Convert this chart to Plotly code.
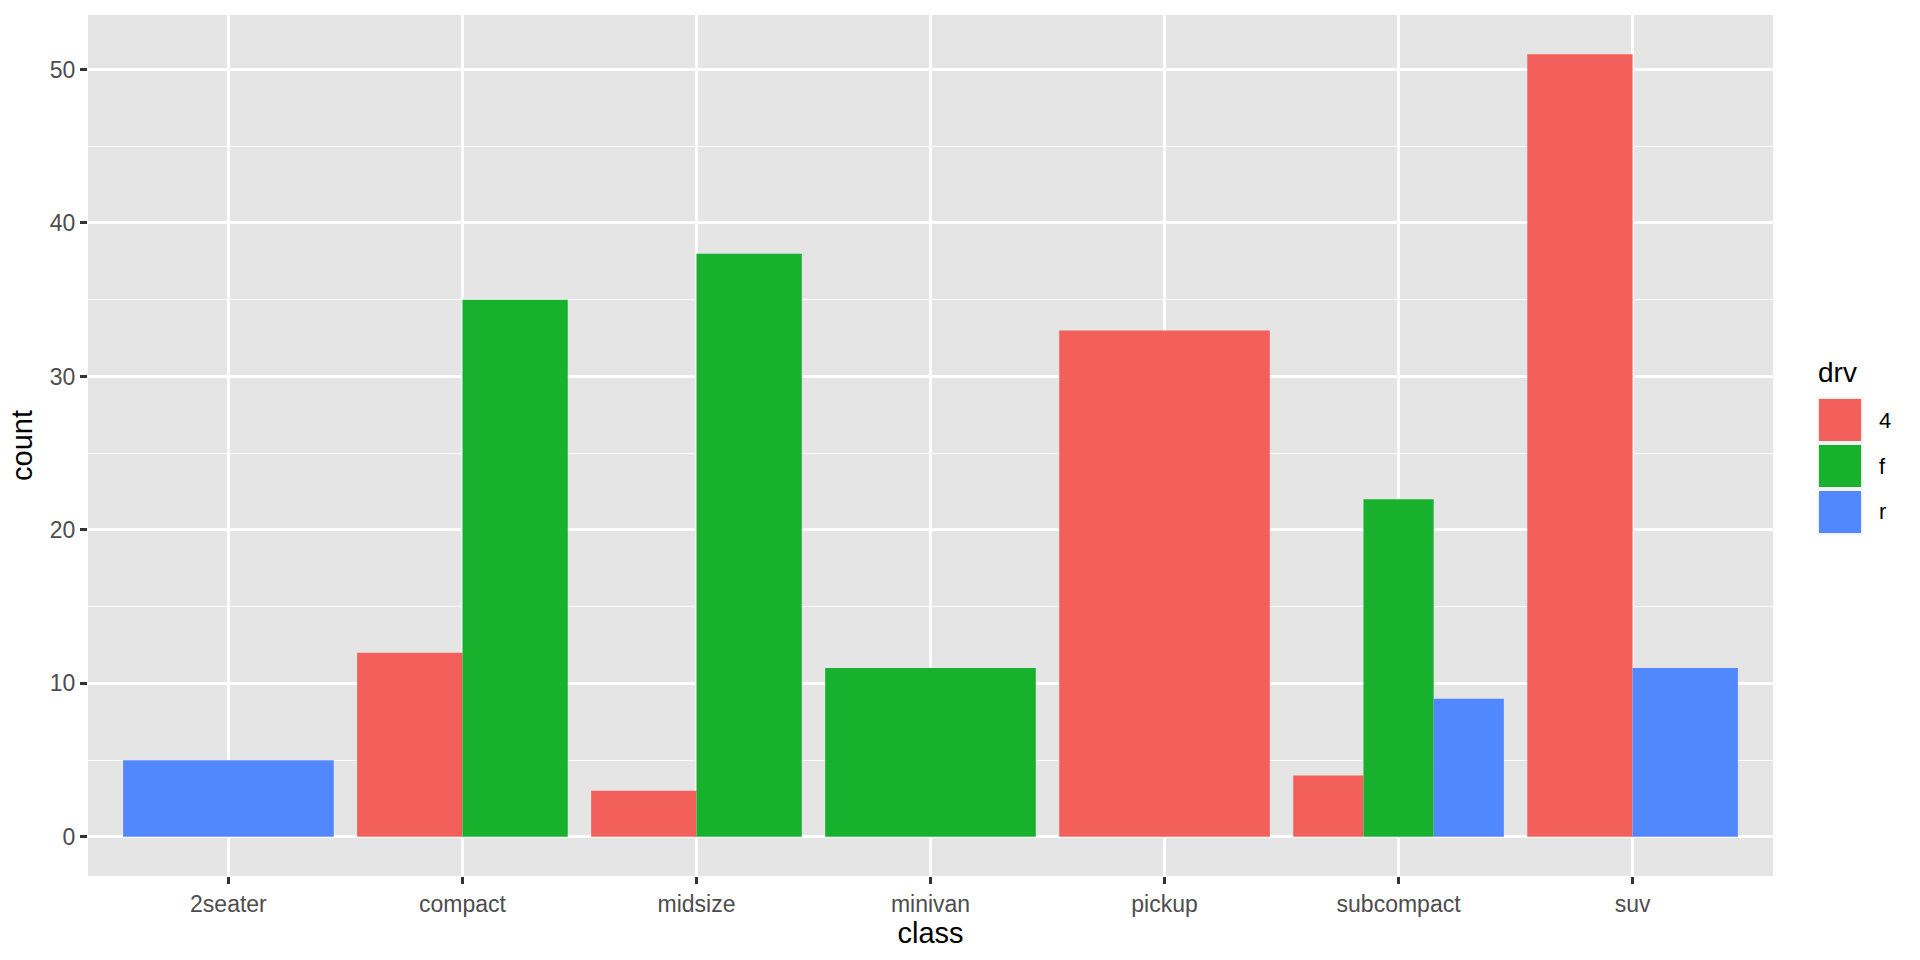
import plotly.graph_objects as go

classes = ["2seater", "compact", "midsize", "minivan", "pickup", "subcompact", "suv"]
drv_levels = ["4", "f", "r"]
counts_4 = [0, 12, 3, 0, 33, 4, 51]
counts_f = [0, 35, 38, 11, 0, 22, 0]
counts_r = [5, 0, 0, 0, 0, 9, 11]
colors = {"4": "#F3605B", "f": "#18B12E", "r": "#5188FF"}

series = {"4": counts_4, "f": counts_f, "r": counts_r}

W, H = 1920, 960
ML, MR, MT, MB = 88, 147, 15, 84
PW, PH = W - ML - MR, H - MT - MB

# position_dodge: within each class, split total width 0.9 among present groups
dodge_w = 0.9
xs = {d: [] for d in drv_levels}
ws = {d: [] for d in drv_levels}
ys = {d: [] for d in drv_levels}
for i, c in enumerate(classes):
    present = [d for d in drv_levels if series[d][i] > 0]
    n = len(present)
    bw = dodge_w / n
    for j, d in enumerate(present):
        xs[d].append(i + 1 - dodge_w / 2 + (j + 0.5) * bw)
        ws[d].append(bw)
        ys[d].append(series[d][i])

fig = go.Figure()
for d in drv_levels:
    fig.add_trace(go.Bar(x=xs[d], y=ys[d], width=ws[d], name=d,
                         marker=dict(color=colors[d], line=dict(width=0)),
                         showlegend=False))

font_family = "Liberation Sans, Arial, sans-serif"
ymax = 51
fig.update_layout(
    width=W, height=H,
    margin=dict(l=ML, r=MR, t=MT, b=MB, autoexpand=False),
    paper_bgcolor="white", plot_bgcolor="#E5E5E5",
    font=dict(family=font_family, color="#4D4D4D", size=23),
    barmode="overlay",
    xaxis=dict(range=[0.4, 7.6], tickvals=list(range(1, 8)), ticktext=classes,
               automargin=False,
               showgrid=True, gridcolor="white", gridwidth=2.6, zeroline=False,
               ticks="outside", ticklen=7, tickwidth=2.6, tickcolor="#333333",
               tickfont=dict(size=23, color="#4D4D4D"),
               title=dict(text="class", font=dict(size=29, color="black"), standoff=4)),
    yaxis=dict(range=[-0.05 * ymax, ymax * 1.05], tickvals=[0, 10, 20, 30, 40, 50],
               automargin=False,
               showgrid=True, gridcolor="white", gridwidth=2.6, zeroline=False,
               ticks="outside", ticklen=7, tickwidth=2.6, tickcolor="#333333",
               tickfont=dict(size=23, color="#4D4D4D"),
               minor=dict(tickvals=[5, 15, 25, 35, 45], showgrid=True,
                          gridcolor="white", gridwidth=1.3, ticks=""),
               title=dict(text="count", font=dict(size=29, color="black"), standoff=8)),
)

# custom ggplot-style legend
def px_x(p):
    return (p - ML) / PW

def px_y(p):
    return (H - MB - p) / PH

fig.add_annotation(x=px_x(1816), y=px_y(372), xref="paper", yref="paper",
                   text="drv", showarrow=False, xanchor="left", yanchor="middle",
                   font=dict(size=28, color="black", family=font_family))
key_top = 397
key_h = 46
for k, d in enumerate(drv_levels):
    t = key_top + k * key_h
    fig.add_shape(type="rect", xref="paper", yref="paper",
                  x0=px_x(1817), x1=px_x(1863), y0=px_y(t), y1=px_y(t + key_h),
                  fillcolor="#F2F2F2", line=dict(width=0), layer="above")
    fig.add_shape(type="rect", xref="paper", yref="paper",
                  x0=px_x(1819), x1=px_x(1861), y0=px_y(t + 2), y1=px_y(t + key_h - 2),
                  fillcolor=colors[d], line=dict(width=0), layer="above")
    fig.add_annotation(x=px_x(1877), y=px_y(t + key_h / 2), xref="paper", yref="paper",
                       text=d, showarrow=False, xanchor="left", yanchor="middle",
                       font=dict(size=22, color="black", family=font_family))

fig.write_html("out.html", config={"displayModeBar": False},
               post_script="document.body.style.margin='0';document.body.style.overflow='hidden';")
